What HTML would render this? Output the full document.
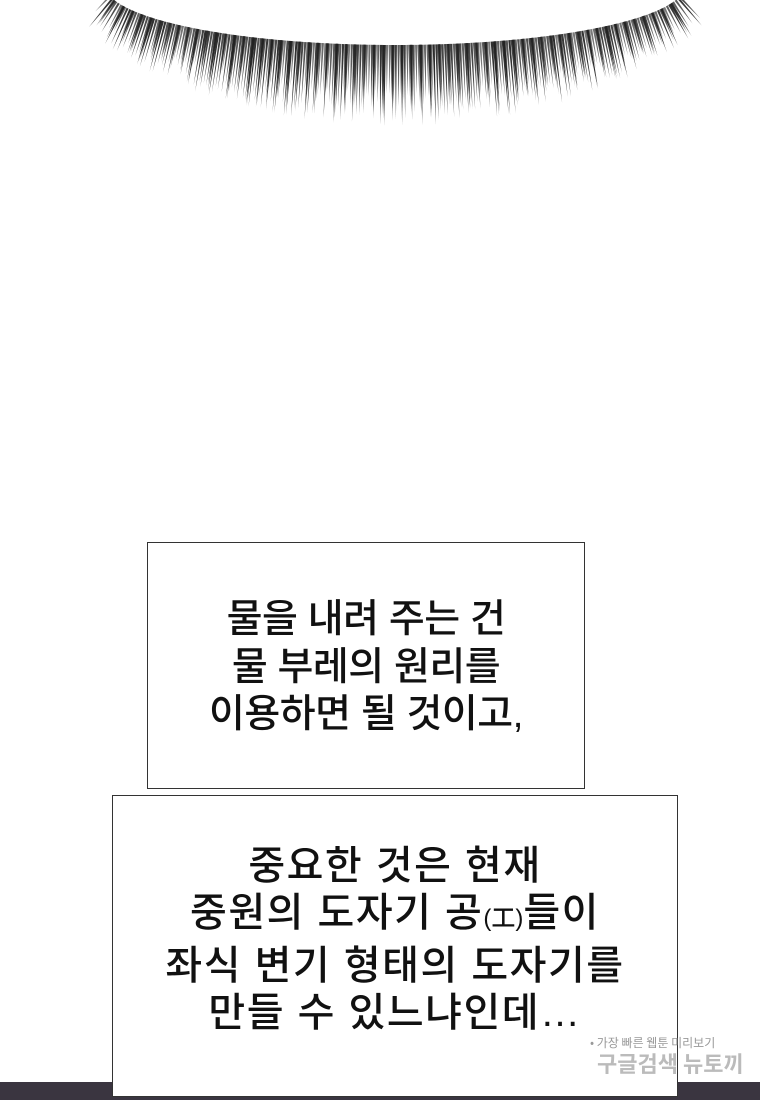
<!DOCTYPE html>
<html><head><meta charset="utf-8"><style>
body{margin:0;width:760px;height:1100px;background:#fff;position:relative;overflow:hidden;font-family:"Liberation Sans","Noto Sans CJK KR","NanumGothic",sans-serif}
.box{position:absolute;background:#fff;border:1.5px solid #333;box-sizing:border-box;display:flex;align-items:center;justify-content:center;text-align:center;color:#111}
.t{font-size:39px;line-height:47.5px;font-weight:500;letter-spacing:-0.5px;white-space:nowrap}
</style></head><body>
<svg id="s" width="760" height="140" style="position:absolute;left:0;top:0"></svg>
<div style="position:absolute;left:0;top:1082px;width:760px;height:18px;background:#3a3540"></div>
<div class="box" style="left:147px;top:542px;width:438px;height:247px"><div class="t" style="margin-top:4px">물을 내려 주는 건<br>물 부레의 원리를<br>이용하면 될 것이고,</div></div>
<div class="box" style="left:112px;top:795px;width:566px;height:302px"><div class="t" style="margin-bottom:12px;font-size:40px;letter-spacing:1.5px">중요한 것은 현재<br>중원의 도자기 공<span style="font-size:24px;letter-spacing:0">(工)</span>들이<br>좌식 변기 형태의 도자기를<br>만들 수 있느냐인데…</div></div>
<div style="position:absolute;left:590px;top:1034px;font-size:12px;color:#999;font-family:'Noto Sans CJK KR',sans-serif">• 가장 빠른 웹툰 미리보기</div>
<div style="position:absolute;left:597px;top:1047px;font-size:22px;color:#bbb;font-family:'Noto Sans CJK KR',sans-serif;font-weight:bold">구글검색 뉴토끼</div>
<script>
var s=document.getElementById('s'),h='';
var a=290,b=60,cx=395,cy=47-b;
for(var i=0;i<380;i++){
 var x=110+i*(680-110)/380+Math.sin(i*7.3)*1.2;
 var dx=x-cx; if(Math.abs(dx)>=a)continue;
 var y=cy+b*Math.sqrt(1-dx*dx/(a*a));
 var nx=dx/(a*a),ny=(y-cy)/(b*b),n=Math.sqrt(nx*nx+ny*ny);nx/=n;ny/=n;
 var r=Math.abs(Math.sin(i*12.9898)*43758.5)%1;
 var L=(35+45*(1-Math.pow(Math.abs(dx)/a,2)))*(0.55+0.45*r);
 var x2=x+nx*L,y2=y+ny*L,w=1.1;
 var px=-ny*w,py=nx*w;
 h+='<polygon points="'+(x+px)+','+(y-2+py)+' '+(x-px)+','+(y-2-py)+' '+x2+','+y2+'" fill="#222" fill-opacity="'+(0.6+0.35*r)+'"/>';
}
s.innerHTML=h;
</script>
</body></html>
